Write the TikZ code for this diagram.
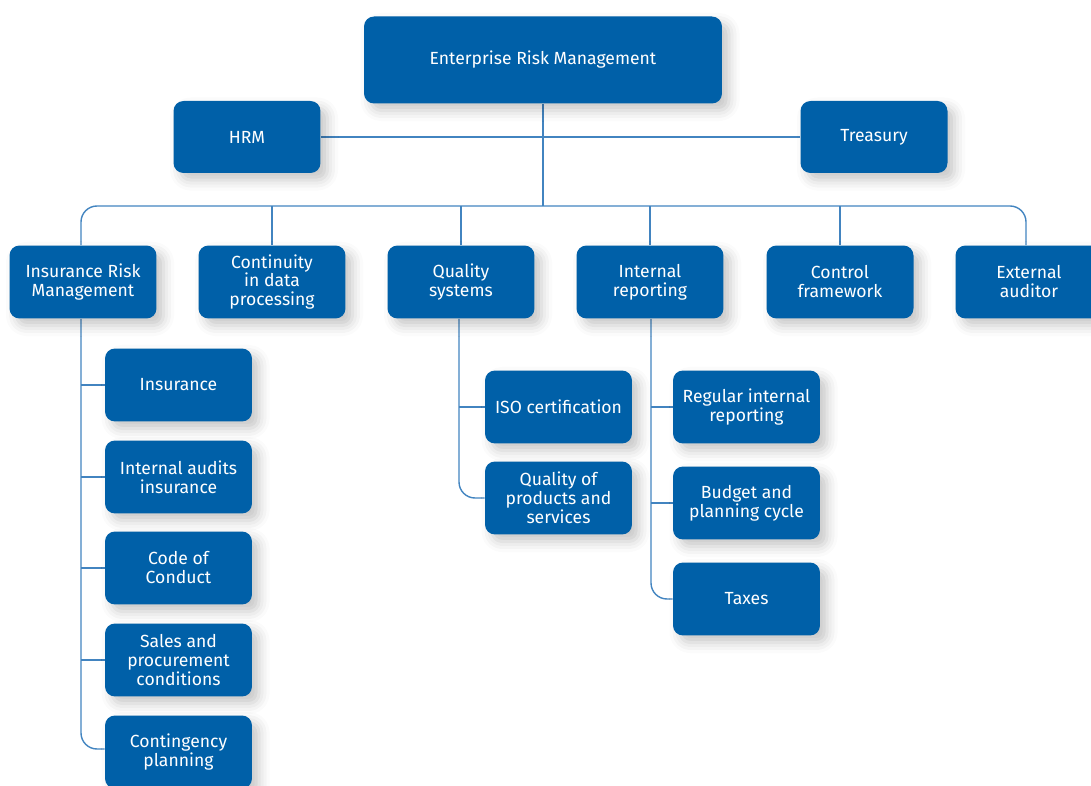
\documentclass[tikz,border=0pt]{standalone}
\usepackage{fontspec}
\setmainfont{Fira Sans}
\usepackage{tikz}
\usetikzlibrary{positioning,calc,backgrounds,shadows.blur}
\definecolor{ermblue}{RGB}{0,96,168}
\definecolor{linkblue}{RGB}{66,132,192}
\tikzset{
  box/.style={rounded corners=0.2cm, fill=ermblue, text=white, align=center,
    minimum width=2.94cm, minimum height=1.46cm, inner sep=2pt,
    font=\fontsize{10}{10.8}\selectfont,
    blur shadow={shadow xshift=4pt, shadow yshift=-4pt, shadow blur radius=6pt, shadow opacity=22}},
  link/.style={draw=linkblue, line width=0.8pt},
}

\begin{document}
\begin{tikzpicture}[x=0.02cm,y=-0.02cm]
\useasboundingbox (0,0) rectangle (1091,786);
\node[box, minimum width=7.16cm, minimum height=1.74cm] (erm) at (543,60) {Enterprise Risk Management};
\node[box, minimum height=1.44cm] (hrm) at (247,137) {HRM};
\node[box, minimum height=1.44cm] (treas) at (874,137) {Treasury};
\node[box] (irm) at (83,282) {Insurance Risk\\Management};
\node[box] (cont) at (272,282) {Continuity\\in data\\processing};
\node[box] (qual) at (461,282) {Quality\\systems};
\node[box] (intrep) at (650,282) {Internal\\reporting};
\node[box] (ctrl) at (840,282) {Control\\framework};
\node[box] (extaud) at (1029,282) {External\\auditor};
\node[box] (ins) at (178.5,385) {Insurance};
\node[box] (audit) at (178.5,477) {Internal audits\\insurance};
\node[box] (code) at (178.5,568) {Code of\\Conduct};
\node[box] (sales) at (178.5,660) {Sales and\\procurement\\conditions};
\node[box] (conting) at (178.5,752) {Contingency\\planning};
\node[box] (iso) at (558.5,407) {ISO certification};
\node[box] (qprod) at (558.5,498) {Quality of\\products and\\services};
\node[box] (regint) at (746.5,407) {Regular internal\\reporting};
\node[box] (budget) at (746.5,503) {Budget and\\planning cycle};
\node[box] (taxes) at (746.5,599) {Taxes};
\coordinate (bus) at (543,206);
\begin{scope}[on background layer]
\draw[link] (hrm.east) -- (treas.west);
\draw[link] (erm.south) -- (bus);
\draw[link, rounded corners=0.32cm] ($(irm.north)+(-2,0)$) |- (bus) -| ($(extaud.north)+(-3,0)$);
\foreach \n in {cont,qual,intrep,ctrl}
  \draw[link] (\n.north) -- (\n.north |- bus);
\draw[link, rounded corners=0.32cm] ($(irm.south)+(-2,0)$) |- ($(conting.west)+(0,-3)$);
\foreach \n in {ins,audit,code,sales}
  \draw[link] ($(irm.south |- \n.west)+(-2,0)$) -- (\n.west);
\draw[link, rounded corners=0.32cm] ($(qual.south)+(-2,0)$) |- (qprod.west);
\draw[link] ($(qual.south |- iso.west)+(-2,0)$) -- (iso.west);
\draw[link, rounded corners=0.32cm] ($(intrep.south)+(1,0)$) |- (taxes.west);
\foreach \n in {regint,budget}
  \draw[link] ($(intrep.south |- \n.west)+(1,0)$) -- (\n.west);
\end{scope}
\end{tikzpicture}
\end{document}
